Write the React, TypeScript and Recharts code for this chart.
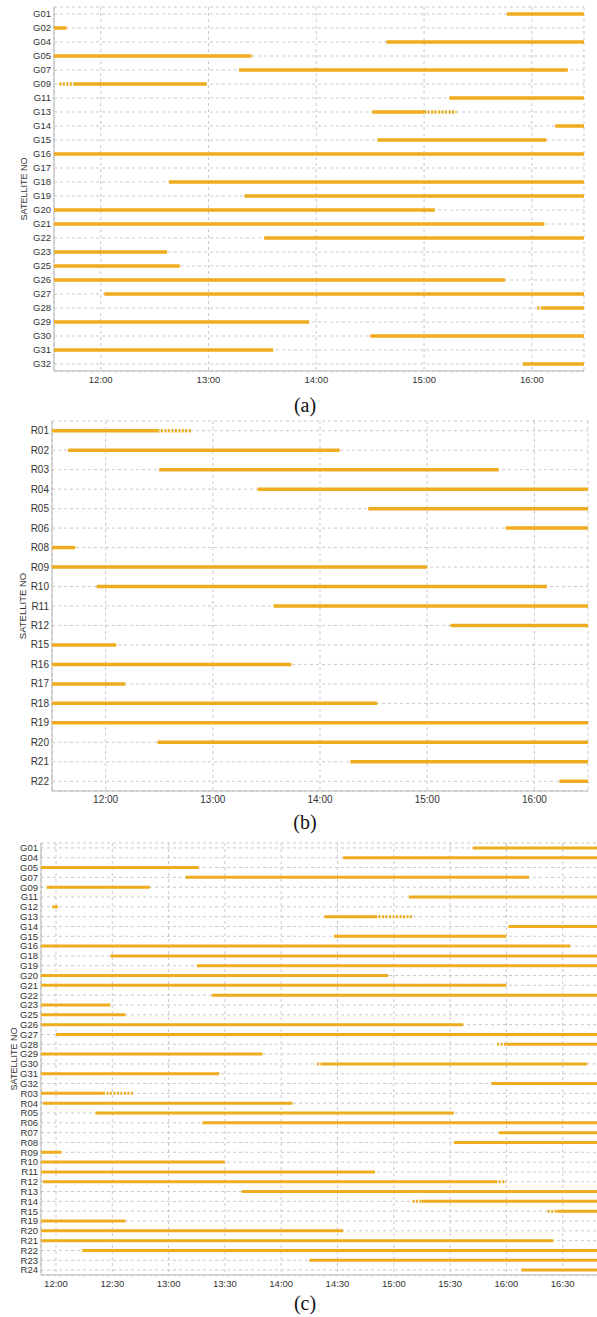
import React from 'react';
import { ScatterChart, Scatter, XAxis, YAxis, CartesianGrid } from 'recharts';

// [satellite, start, end] in local time
type Pass = [string, string, string];

// ---- panel (a): GPS ----
const satsA = ['G01', 'G02', 'G04', 'G05', 'G07', 'G09', 'G11', 'G13', 'G14', 'G15', 'G16', 'G17', 'G18',
  'G19', 'G20', 'G21', 'G22', 'G23', 'G25', 'G26', 'G27', 'G28', 'G29', 'G30', 'G31', 'G32'];
const passesA: Pass[] = [
  ['G01', '15:46', '16:29'], ['G02', '11:34', '11:41'], ['G04', '14:39', '16:29'], ['G05', '11:34', '13:24'],
  ['G07', '13:17', '16:20'], ['G09', '11:45', '12:59'], ['G11', '15:14', '16:29'], ['G13', '14:31', '15:00'],
  ['G14', '16:13', '16:29'], ['G15', '14:34', '16:08'], ['G16', '11:34', '16:29'], ['G18', '12:38', '16:29'],
  ['G19', '13:20', '16:29'], ['G20', '11:34', '15:06'], ['G21', '11:34', '16:07'], ['G22', '13:31', '16:29'],
  ['G23', '11:34', '12:37'], ['G25', '11:34', '12:44'], ['G26', '11:34', '15:45'], ['G27', '12:02', '16:29'],
  ['G28', '16:06', '16:29'], ['G29', '11:34', '13:56'], ['G30', '14:30', '16:29'], ['G31', '11:34', '13:36'],
  ['G32', '15:55', '16:29'],
];
const sparseA: Pass[] = [['G09', '11:37', '11:45'], ['G13', '15:00', '15:18'], ['G28', '16:03', '16:06']];
const domainA = ['11:34', '16:29'];
const ticksA = ['12:00', '13:00', '14:00', '15:00', '16:00'];

// ---- panel (b): GLONASS ----
const satsB = ['R01', 'R02', 'R03', 'R04', 'R05', 'R06', 'R08', 'R09', 'R10', 'R11', 'R12', 'R15', 'R16',
  'R17', 'R18', 'R19', 'R20', 'R21', 'R22'];
const passesB: Pass[] = [
  ['R01', '11:30', '12:29'], ['R02', '11:39', '14:11'], ['R03', '12:30', '15:40'], ['R04', '13:25', '16:30'],
  ['R05', '14:27', '16:30'], ['R06', '15:44', '16:30'], ['R08', '11:30', '11:43'], ['R09', '11:30', '15:00'],
  ['R10', '11:55', '16:07'], ['R11', '13:34', '16:30'], ['R12', '15:13', '16:30'], ['R15', '11:30', '12:06'],
  ['R16', '11:30', '13:44'], ['R17', '11:30', '12:11'], ['R18', '11:30', '14:32'], ['R19', '11:30', '16:30'],
  ['R20', '12:29', '16:30'], ['R21', '14:17', '16:30'], ['R22', '16:14', '16:30'],
];
const sparseB: Pass[] = [['R01', '12:29', '12:48']];
const domainB = ['11:30', '16:30'];
const ticksB = ['12:00', '13:00', '14:00', '15:00', '16:00'];

// ---- panel (c): GPS + GLONASS ----
const satsC = ['G01', 'G04', 'G05', 'G07', 'G09', 'G11', 'G12', 'G13', 'G14', 'G15', 'G16', 'G18', 'G19',
  'G20', 'G21', 'G22', 'G23', 'G25', 'G26', 'G27', 'G28', 'G29', 'G30', 'G31', 'G32', 'R03', 'R04', 'R05',
  'R06', 'R07', 'R08', 'R09', 'R10', 'R11', 'R12', 'R13', 'R14', 'R15', 'R19', 'R20', 'R21', 'R22', 'R23', 'R24'];
const passesC: Pass[] = [
  ['G01', '15:42', '16:52'], ['G04', '14:33', '16:52'], ['G05', '11:52', '13:16'], ['G07', '13:09', '16:12'],
  ['G09', '11:55', '12:50'], ['G11', '15:08', '16:52'], ['G12', '11:58', '12:01'], ['G13', '14:23', '14:50'],
  ['G14', '16:01', '16:52'], ['G15', '14:28', '16:00'], ['G16', '11:52', '16:34'], ['G18', '12:29', '16:52'],
  ['G19', '13:15', '16:52'], ['G20', '11:52', '14:57'], ['G21', '11:52', '16:00'], ['G22', '13:23', '16:52'],
  ['G23', '11:52', '12:29'], ['G25', '11:52', '12:37'], ['G26', '11:52', '15:37'], ['G27', '12:00', '16:52'],
  ['G28', '16:00', '16:52'], ['G29', '11:52', '13:50'], ['G30', '14:21', '16:43'], ['G31', '11:52', '13:27'],
  ['G32', '15:52', '16:52'], ['R03', '11:52', '12:25'], ['R04', '11:53', '14:06'], ['R05', '12:21', '15:32'],
  ['R06', '13:18', '16:52'], ['R07', '15:56', '16:52'], ['R08', '15:32', '16:52'], ['R09', '11:52', '12:03'],
  ['R10', '11:52', '13:30'], ['R11', '11:52', '14:50'], ['R12', '11:53', '15:54'], ['R13', '13:39', '16:52'],
  ['R14', '15:15', '16:52'], ['R15', '16:27', '16:52'], ['R19', '11:52', '12:37'], ['R20', '11:52', '14:33'],
  ['R21', '11:52', '16:25'], ['R22', '12:14', '16:52'], ['R23', '14:15', '16:52'], ['R24', '16:08', '16:52'],
];
const sparseC: Pass[] = [
  ['G13', '14:50', '15:10'], ['G28', '15:55', '16:00'], ['G30', '14:19', '14:21'], ['R03', '12:25', '12:41'],
  ['R12', '15:54', '16:00'], ['R14', '15:10', '15:15'], ['R15', '16:22', '16:27'],
];
const domainC = ['11:52', '16:52'];
const ticksC = ['12:00', '12:30', '13:00', '13:30', '14:00', '14:30', '15:00', '15:30', '16:00', '16:30'];

const ORANGE = '#EEAC1E';
const AXIS = '#b5b5b5';
const FRAME = '#d2d2d2';

// minutes after 12:00
const toMin = (s: string) => {
  const [h, m] = s.split(':').map(Number);
  return (h - 12) * 60 + m;
};
const fmtTime = (v: number) => {
  const t = v + 720;
  return `${Math.floor(t / 60)}:${String(t % 60).padStart(2, '0')}`;
};

const NoDot = () => null;

interface PanelProps {
  sats: string[];
  passes: Pass[];
  sparse: Pass[];
  domain: string[];
  ticks: string[];
  width: number;
  height: number;
  right: number;
  yWidth: number;
  fontSize: number;
  lineWidth: number;
  titleOffset: number;
}

function Panel({ sats, passes, sparse, domain, ticks, width, height, right, yWidth, fontSize, lineWidth, titleOffset }: PanelProps) {
  const toPts = (p: Pass) => {
    const y = sats.indexOf(p[0]);
    return [{ t: toMin(p[1]), y }, { t: toMin(p[2]), y }];
  };
  const xDomain = domain.map(toMin);
  const yDomain = [-0.5, sats.length - 0.5];
  const tickStyle = { fontSize, fill: '#333' };

  return (
    <ScatterChart width={width} height={height} margin={{ top: 7, right, bottom: 0, left: 0 }}>
      <CartesianGrid stroke="#c9c9c9" strokeDasharray="3 3" />
      <XAxis
        type="number"
        dataKey="t"
        domain={xDomain}
        ticks={ticks.map(toMin)}
        tickFormatter={fmtTime}
        allowDataOverflow
        height={24}
        tickSize={0}
        tickMargin={5}
        tick={tickStyle}
        axisLine={{ stroke: AXIS }}
      />
      <XAxis xAxisId="top" orientation="top" type="number" domain={xDomain} height={0} tick={false} tickLine={false} axisLine={{ stroke: FRAME }} />
      <YAxis
        type="number"
        dataKey="y"
        domain={yDomain}
        reversed
        ticks={sats.map((_, i) => i)}
        interval={0}
        tickFormatter={(i: number) => sats[i] ?? ''}
        width={yWidth}
        tickSize={0}
        tickMargin={3}
        tick={tickStyle}
        axisLine={{ stroke: AXIS }}
        label={{
          value: 'SATELLITE NO',
          angle: -90,
          position: 'insideLeft',
          offset: titleOffset,
          style: { textAnchor: 'middle', fontSize: fontSize - 0.5, fill: '#333' },
        }}
      />
      <YAxis yAxisId="right" orientation="right" type="number" domain={yDomain} width={0} tick={false} tickLine={false} axisLine={{ stroke: FRAME }} />
      {passes.map((p, i) => (
        <Scatter
          key={`p${i}`}
          data={toPts(p)}
          fill={ORANGE}
          line={{ strokeWidth: lineWidth }}
          shape={NoDot}
          isAnimationActive={false}
        />
      ))}
      {sparse.map((p, i) => (
        <Scatter
          key={`s${i}`}
          data={toPts(p)}
          fill={ORANGE}
          line={{ strokeWidth: lineWidth, strokeDasharray: '2 1.5' }}
          shape={NoDot}
          isAnimationActive={false}
        />
      ))}
    </ScatterChart>
  );
}

const captionStyle: React.CSSProperties = {
  position: 'absolute',
  left: 280,
  width: 50,
  textAlign: 'center',
  fontFamily: '"Liberation Serif", "Times New Roman", serif',
  fontSize: 20,
  lineHeight: '24px',
  color: '#111',
};

export default function App() {
  return (
    <div
      style={{
        position: 'absolute',
        left: 0,
        top: 0,
        width: 597,
        height: 1317,
        overflow: 'hidden',
        background: '#fff',
        fontFamily: '"Liberation Sans", Arial, sans-serif',
      }}
    >
      <div style={{ position: 'absolute', left: 0, top: 0 }}>
        <Panel sats={satsA} passes={passesA} sparse={sparseA} domain={domainA} ticks={ticksA}
          width={597} height={395} right={13} yWidth={54} fontSize={9.5} lineWidth={3.5} titleOffset={24} />
      </div>
      <div style={{ ...captionStyle, top: 393 }}>(a)</div>

      <div style={{ position: 'absolute', left: 0, top: 414 }}>
        <Panel sats={satsB} passes={passesB} sparse={sparseB} domain={domainB} ticks={ticksB}
          width={597} height={401} right={9} yWidth={52} fontSize={10} lineWidth={3.5} titleOffset={23} />
      </div>
      <div style={{ ...captionStyle, top: 810 }}>(b)</div>

      <div style={{ position: 'absolute', left: 0, top: 836 }}>
        <Panel sats={satsC} passes={passesC} sparse={sparseC} domain={domainC} ticks={ticksC}
          width={610} height={463} right={6} yWidth={41} fontSize={9.5} lineWidth={3} titleOffset={14} />
      </div>
      <div style={{ ...captionStyle, top: 1291 }}>(c)</div>
    </div>
  );
}
